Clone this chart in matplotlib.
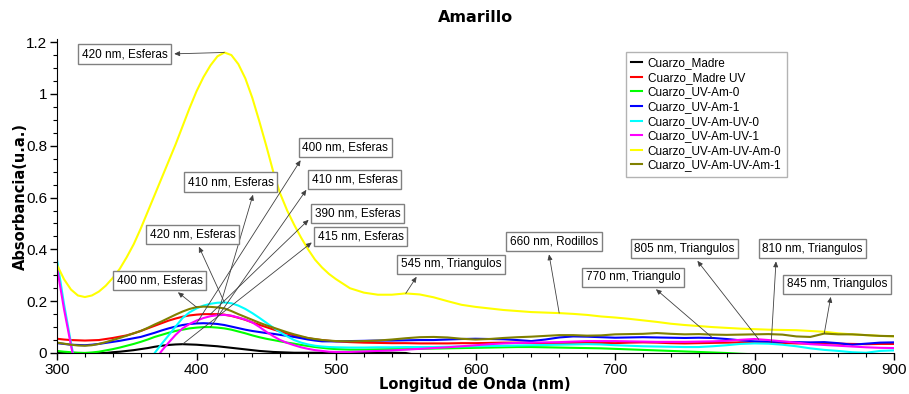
import numpy as np
import matplotlib
matplotlib.use('Agg')
import matplotlib.pyplot as plt
from matplotlib.ticker import MultipleLocator, FuncFormatter

# wavelength grid (nm): 5 nm steps up to 500, then 10 nm steps
wl = np.concatenate([np.arange(300, 500, 5), np.arange(500, 901, 10)])

names = ['Cuarzo_Madre', 'Cuarzo_Madre UV', 'Cuarzo_UV-Am-0', 'Cuarzo_UV-Am-1',
         'Cuarzo_UV-Am-UV-0', 'Cuarzo_UV-Am-UV-1', 'Cuarzo_UV-Am-UV-Am-0',
         'Cuarzo_UV-Am-UV-Am-1']
colors = ['#000000', '#ff0000', '#00ff00', '#0000ff', '#00ffff', '#ff00ff',
          '#ffff00', '#808000']

# absorbance values (u.a.)
# first block: 300..500 nm every 5 nm, second block: 510..900 nm every 10 nm
madre = [0, 0, 0, 0, 0, 0, 0, 0, 0.003, 0.005,
         0.008, 0.011, 0.015, 0.019, 0.024, 0.028, 0.031, 0.033, 0.034, 0.033,
         0.032, 0.030, 0.028, 0.026, 0.023, 0.020, 0.017, 0.014, 0.011, 0.008,
         0.006, 0.004, 0.003, 0.002, 0.001, 0.001, 0.001, 0.001, 0.001, 0.001,
         0.001] + \
        [0.001, 0.001, 0.001, 0.001, 0.0, -0.01, -0.01, -0.01, -0.01, -0.01,
         -0.01, -0.01, -0.01, -0.01, -0.01, -0.01, -0.01, -0.01, -0.01, -0.01,
         -0.01, -0.01, -0.01, -0.01, -0.01, -0.01, -0.01, -0.01, -0.01, -0.01,
         -0.01, -0.01, -0.01, -0.01, -0.01, -0.01, -0.01, -0.01, -0.01, -0.01]
madre_uv = [0.055, 0.052, 0.050, 0.049, 0.048, 0.049, 0.050, 0.054, 0.058, 0.063,
            0.068, 0.076, 0.085, 0.095, 0.105, 0.115, 0.125, 0.133, 0.140, 0.145,
            0.148, 0.150, 0.150, 0.150, 0.148, 0.143, 0.136, 0.128, 0.118, 0.109,
            0.100, 0.091, 0.083, 0.075, 0.068, 0.062, 0.057, 0.053, 0.050, 0.047,
            0.045] + \
           [0.042, 0.040, 0.039, 0.038, 0.038, 0.037, 0.037, 0.037, 0.038, 0.038,
            0.039, 0.040, 0.040, 0.039, 0.038, 0.038, 0.039, 0.040, 0.039, 0.038,
            0.040, 0.041, 0.040, 0.038, 0.037, 0.038, 0.039, 0.040, 0.041, 0.040,
            0.040, 0.039, 0.037, 0.036, 0.037, 0.036, 0.035, 0.034, 0.035, 0.035]
uv_am_0 = [0.008, 0.005, 0.003, 0.001, 0.0, 0.002, 0.005, 0.010, 0.015, 0.021,
           0.028, 0.035, 0.043, 0.052, 0.062, 0.070, 0.078, 0.085, 0.090, 0.095,
           0.098, 0.100, 0.100, 0.098, 0.095, 0.090, 0.083, 0.076, 0.068, 0.061,
           0.055, 0.050, 0.045, 0.040, 0.036, 0.031, 0.027, 0.023, 0.020, 0.017,
           0.015] + \
          [0.013, 0.013, 0.014, 0.015, 0.015, 0.016, 0.017, 0.018, 0.019, 0.020,
           0.021, 0.022, 0.023, 0.023, 0.022, 0.021, 0.020, 0.019, 0.018, 0.016,
           0.014, 0.012, 0.010, 0.008, 0.006, 0.004, 0.002, 0.0, -0.003, -0.005,
           -0.005, -0.005, -0.005, -0.005, -0.005, -0.005, -0.005, -0.005, -0.005, -0.005]
uv_am_1 = [0.038, 0.035, 0.032, 0.031, 0.030, 0.032, 0.035, 0.039, 0.043, 0.047,
           0.052, 0.057, 0.062, 0.070, 0.078, 0.087, 0.095, 0.102, 0.108, 0.112,
           0.114, 0.115, 0.114, 0.112, 0.108, 0.102, 0.096, 0.090, 0.085, 0.081,
           0.077, 0.074, 0.070, 0.066, 0.062, 0.057, 0.052, 0.048, 0.045, 0.045,
           0.045] + \
          [0.046, 0.047, 0.048, 0.048, 0.049, 0.050, 0.050, 0.052, 0.054, 0.055,
           0.054, 0.053, 0.050, 0.046, 0.052, 0.060, 0.064, 0.063, 0.061, 0.059,
           0.060, 0.061, 0.060, 0.059, 0.058, 0.059, 0.058, 0.054, 0.049, 0.045,
           0.044, 0.043, 0.042, 0.041, 0.042, 0.038, 0.032, 0.036, 0.040, 0.041]
uv_am_uv_0 = [0.36, 0.19, 0.04, -0.1, -0.2, -0.2, -0.2, -0.2, -0.2, -0.2,
              -0.2, -0.16, -0.12, -0.06, 0.0, 0.035, 0.068, 0.102, 0.135, 0.157,
              0.172, 0.183, 0.190, 0.194, 0.195, 0.192, 0.183, 0.170, 0.154, 0.136,
              0.117, 0.098, 0.080, 0.064, 0.050, 0.040, 0.033, 0.028, 0.025, 0.023,
              0.022] + \
             [0.021, 0.021, 0.022, 0.022, 0.023, 0.023, 0.023, 0.024, 0.025, 0.026,
              0.027, 0.028, 0.029, 0.030, 0.031, 0.032, 0.033, 0.034, 0.033, 0.030,
              0.028, 0.026, 0.025, 0.024, 0.023, 0.023, 0.026, 0.030, 0.035, 0.037,
              0.036, 0.032, 0.026, 0.018, 0.012, 0.008, 0.003, 0.001, 0.008, 0.010]
uv_am_uv_1 = [0.33, 0.17, 0.03, -0.1, -0.2, -0.2, -0.2, -0.2, -0.2, -0.2,
              -0.2, -0.18, -0.15, -0.08, -0.03, 0.008, 0.040, 0.070, 0.095, 0.112,
              0.125, 0.135, 0.142, 0.146, 0.147, 0.144, 0.137, 0.129, 0.118, 0.101,
              0.082, 0.065, 0.050, 0.039, 0.030, 0.022, 0.016, 0.011, 0.008, 0.005,
              0.004] + \
             [0.004, 0.006, 0.008, 0.010, 0.013, 0.016, 0.019, 0.022, 0.026, 0.030,
              0.034, 0.037, 0.039, 0.040, 0.041, 0.042, 0.044, 0.046, 0.046, 0.046,
              0.045, 0.044, 0.043, 0.043, 0.043, 0.044, 0.045, 0.047, 0.051, 0.054,
              0.050, 0.045, 0.040, 0.034, 0.031, 0.028, 0.025, 0.022, 0.020, 0.019]
uv_am_uv_am_0 = [0.34, 0.285, 0.245, 0.222, 0.216, 0.222, 0.237, 0.26, 0.29, 0.325,
                 0.37, 0.42, 0.48, 0.545, 0.61, 0.675, 0.74, 0.805, 0.875, 0.945,
                 1.01, 1.065, 1.11, 1.145, 1.16, 1.15, 1.115, 1.06, 0.985, 0.895,
                 0.80, 0.70, 0.615, 0.55, 0.495, 0.445, 0.40, 0.36, 0.33, 0.305,
                 0.285] + \
                [0.25, 0.233, 0.225, 0.225, 0.230, 0.226, 0.215, 0.20, 0.186, 0.178,
                 0.172, 0.166, 0.162, 0.158, 0.156, 0.154, 0.151, 0.147, 0.141, 0.137,
                 0.132, 0.126, 0.120, 0.113, 0.108, 0.104, 0.100, 0.097, 0.094, 0.092,
                 0.090, 0.089, 0.088, 0.085, 0.082, 0.076, 0.072, 0.069, 0.066, 0.064]
uv_am_uv_am_1 = [0.040, 0.036, 0.032, 0.029, 0.028, 0.030, 0.035, 0.042, 0.050, 0.058,
                 0.067, 0.076, 0.085, 0.097, 0.110, 0.122, 0.135, 0.148, 0.160, 0.170,
                 0.177, 0.179, 0.178, 0.176, 0.172, 0.162, 0.150, 0.139, 0.128, 0.117,
                 0.107, 0.098, 0.089, 0.080, 0.072, 0.065, 0.058, 0.054, 0.050, 0.048,
                 0.046] + \
                [0.045, 0.046, 0.048, 0.052, 0.057, 0.061, 0.062, 0.060, 0.055, 0.052,
                 0.054, 0.058, 0.061, 0.063, 0.066, 0.069, 0.069, 0.067, 0.068, 0.072,
                 0.073, 0.074, 0.077, 0.074, 0.072, 0.073, 0.071, 0.070, 0.071, 0.072,
                 0.073, 0.071, 0.064, 0.062, 0.075, 0.072, 0.072, 0.069, 0.066, 0.065]

series = [madre, madre_uv, uv_am_0, uv_am_1, uv_am_uv_0, uv_am_uv_1,
          uv_am_uv_am_0, uv_am_uv_am_1]

# annotations: text, series index, wavelength pointed at
ann_text = ['420 nm, Esferas', '400 nm, Esferas', '410 nm, Esferas', '410 nm, Esferas',
            '390 nm, Esferas', '415 nm, Esferas', '420 nm, Esferas', '400 nm, Esferas',
            '545 nm, Triangulos', '660 nm, Rodillos', '770 nm, Triangulo',
            '805 nm, Triangulos', '810 nm, Triangulos', '845 nm, Triangulos']
ann_series = [6, 3, 5, 2, 1, 0, 4, 7, 6, 6, 3, 5, 1, 7]
ann_wl = [420, 400, 415, 410, 410, 390, 420, 400, 550, 660, 770, 803, 812, 850]

# label box centres (data coords) and where the arrow leaves the box
ann_pos = [(348.4, 1.154), (506.5, 0.792), (424.7, 0.660), (513.6, 0.668),
           (515.4, 0.539), (517.9, 0.448), (397.1, 0.459), (373.5, 0.280),
           (582.4, 0.342), (656.3, 0.430), (712.9, 0.292), (749.8, 0.403),
           (841.6, 0.403), (859.1, 0.266)]
ann_rel = [(1.0, 0.5), (0.03, 0.0), (0.78, 0.0), (0.0, 0.35),
           (0.0, 0.45), (0.0, 0.45), (0.54, 0.0), (0.63, 0.0),
           (0.2, 0.0), (0.43, 0.0), (0.67, 0.0), (0.58, 0.0),
           (0.14, 0.0), (0.45, 0.0)]

fig = plt.figure(figsize=(9.09, 3.94), dpi=100)
ax = fig.add_axes([57 / 909, 1 - 353 / 394, 837 / 909, 314 / 394])

for s, name, c in zip(series, names, colors):
    ax.plot(wl, s, color=c, lw=1.5, label=name)

for txt, si, w, pos, rel in zip(ann_text, ann_series, ann_wl, ann_pos, ann_rel):
    yv = np.interp(w, wl, series[si])
    ax.annotate(txt, xy=(w, yv), xytext=pos, ha='center', va='center',
                fontsize=8.5, family='Liberation Sans', zorder=5,
                bbox=dict(boxstyle='square,pad=0.3', fc='white', ec='#808080', lw=1),
                arrowprops=dict(arrowstyle='<|-,head_length=0.4,head_width=0.18',
                                color='#404040', lw=0.6, relpos=rel,
                                shrinkA=2, shrinkB=0, mutation_scale=8))

ax.set_xlim(300, 900)
ax.set_ylim(0, 1.212)
ax.xaxis.set_major_locator(MultipleLocator(100))
ax.xaxis.set_minor_locator(MultipleLocator(20))
ax.yaxis.set_major_locator(MultipleLocator(0.2))
ax.yaxis.set_minor_locator(MultipleLocator(0.05))
ax.yaxis.set_major_formatter(FuncFormatter(lambda v, p: '%g' % round(v, 2)))
for sp in ['top', 'right']:
    ax.spines[sp].set_visible(False)
ax.tick_params(which='major', length=5, width=1, direction='out', pad=2,
               labelsize=11)
ax.tick_params(which='minor', length=3, width=0.8, direction='out')
for lab in ax.get_xticklabels() + ax.get_yticklabels():
    lab.set_family('Liberation Sans')

leg = ax.legend(loc='upper left', bbox_to_anchor=(626 / 909, 1 - 52 / 394),
                bbox_transform=fig.transFigure, borderaxespad=0, frameon=True,
                fancybox=False, prop={'family': 'Liberation Sans', 'size': 8.5},
                handlelength=0.9, handletextpad=0.5, labelspacing=0.22,
                borderpad=0.45)
leg.get_frame().set_edgecolor('#a0a0a0')
leg.get_frame().set_linewidth(1)
leg.set_zorder(6)

fig.text(476 / 909, 1 - 18 / 394, 'Amarillo', ha='center', va='center',
         fontsize=11.5, fontweight='bold')
fig.text(475 / 909, 1 - 384 / 394, 'Longitud de Onda (nm)', ha='center',
         va='center', fontsize=10.5, fontweight='bold')
fig.text(20 / 909, 1 - 196 / 394, 'Absorbancia(u.a.)', ha='center', va='center',
         rotation=90, fontsize=10.5, fontweight='bold')

fig.savefig('out.png', dpi=100)
